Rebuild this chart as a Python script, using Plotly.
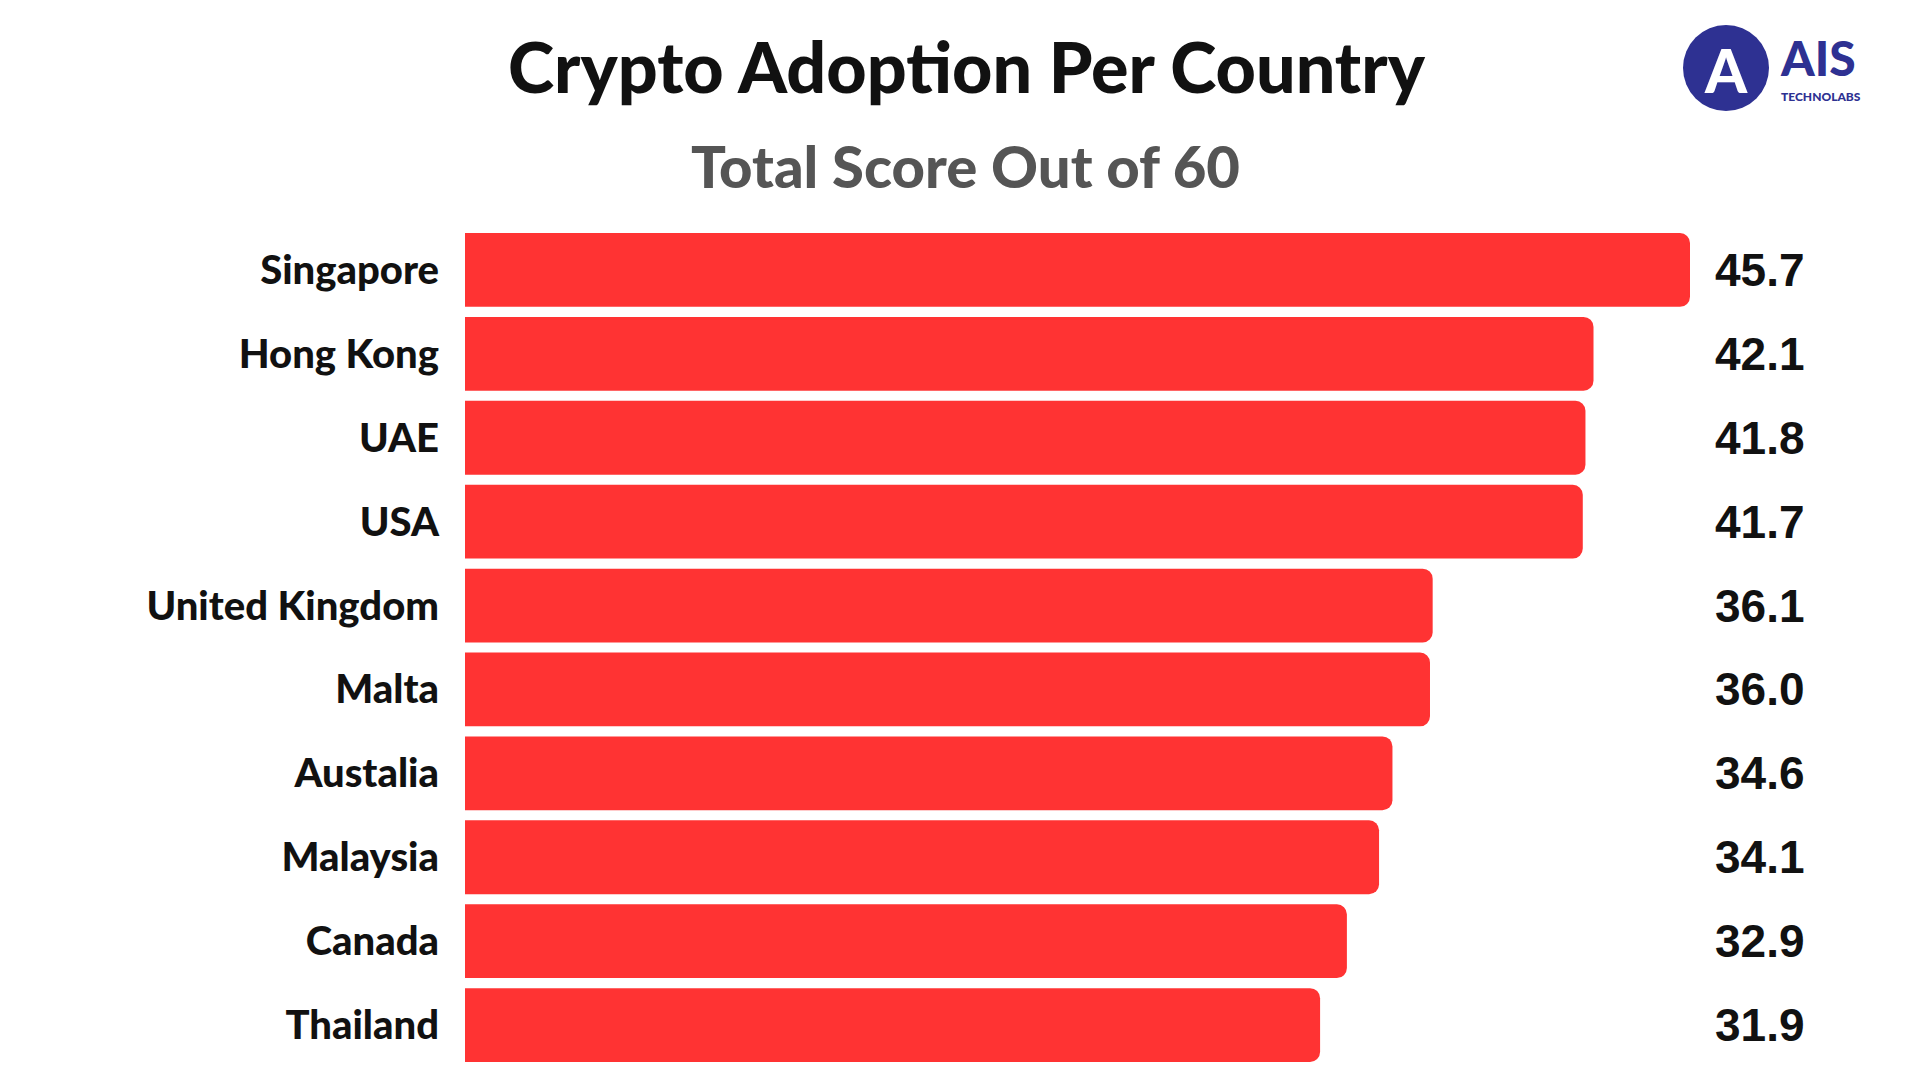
import plotly.graph_objects as go

countries = ["Singapore", "Hong Kong", "UAE", "USA", "United Kingdom", "Malta",
             "Austalia", "Malaysia", "Canada", "Thailand"]
scores = [45.7, 42.1, 41.8, 41.7, 36.1, 36.0, 34.6, 34.1, 32.9, 31.9]
labels = ["45.7", "42.1", "41.8", "41.7", "36.1", "36.0", "34.6", "34.1", "32.9", "31.9"]

W, H = 1920, 1080
fig = go.Figure(go.Bar(
    x=scores, y=countries, orientation="h",
    marker=dict(color="#FF3333", line=dict(width=0)),
    width=0.88, hoverinfo="skip"))

x0 = 457 / W
span = (1682 - 457) / 45.7 * 50 / W
fig.update_layout(
    width=W, height=H, margin=dict(l=0, r=0, t=0, b=0),
    paper_bgcolor="white", plot_bgcolor="white", showlegend=False,
    barcornerradius=10,
    xaxis=dict(range=[0, 50], domain=[x0, x0 + span], visible=False),
    yaxis=dict(domain=[1 - 1059 / H, 1 - 220 / H], autorange="reversed",
               showgrid=False, showline=False, ticks="", ticklabelstandoff=25,
               tickfont=dict(family="Lato", size=40, color="#111111", weight=900)),
    font=dict(family="Lato"),
)

def ann(x, y, text, size, color, family="Lato", xanchor="center", weight="bold"):
    fig.add_annotation(x=x / W, y=1 - y / H, xref="paper", yref="paper", showarrow=False,
                       xanchor=xanchor, yanchor="middle", text=text,
                       font=dict(family=family, size=size, color=color, weight=weight))

# values on the right
for c, t in zip(countries, labels):
    fig.add_annotation(x=1752 / W, xref="paper", y=c, yref="y", text=t, showarrow=False,
                       xanchor="center", yanchor="middle",
                       font=dict(family="Liberation Sans", size=46, color="#111111", weight="bold"))

ann(959, 58, "Crypto Adoption Per Country", 70, "#111111", weight=900)
ann(957, 157, "Total Score Out of 60", 58, "#555555", weight=900)

# logo
fig.add_shape(type="circle", xref="paper", yref="paper",
              x0=(1718 - 43) / W, x1=(1718 + 43) / W, y0=1 - 103 / H, y1=1 - 17 / H,
              fillcolor="#2E3192", line=dict(width=0))
ann(1718, 62, "A", 60, "white", weight=900)
ann(1770, 50, "AIS", 48, "#2E3192", xanchor="left", weight=900)
ann(1771, 88, "TECHNOLABS", 12, "#2E3192", xanchor="left", weight=900)

fig.write_html("out.html")
